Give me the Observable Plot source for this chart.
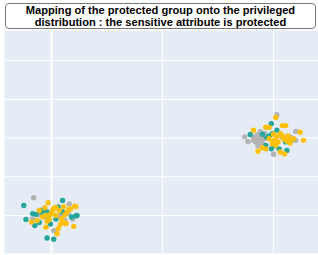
<!DOCTYPE html>
<html>
<head>
<meta charset="utf-8">
<script src="https://cdn.jsdelivr.net/npm/d3@7"></script>
<script src="https://cdn.jsdelivr.net/npm/@observablehq/plot@0.6"></script>
<style>
  html, body { margin: 0; padding: 0; background: #fff; width: 318px; height: 255px; overflow: hidden; }
  #wrap { position: relative; width: 318px; height: 255px; }
  #title {
    position: absolute; left: 5px; top: 3px; width: 309px; height: 24px;
    border: 1px solid #777; border-radius: 4px; background: #fff;
    font-family: "Liberation Sans", Arial, sans-serif; font-weight: bold;
    font-size: 11.1px; line-height: 12px; text-align: center; color: #000;
    box-sizing: content-box; z-index: 2; padding-top: 0px; white-space: nowrap;
  }
  #title div { height: 12px; }
  #chart { position: absolute; left: 0; top: 30px; }
</style>
</head>
<body>
<div id="wrap">
  <div id="title"><div>Mapping of the protected group onto the privileged</div><div>distribution : the sensitive attribute is protected</div></div>
  <div id="chart"></div>
</div>
<script>
const groups = ["privileged", "protected", "mapped"];
const colors = ["#b3b3b3", "#26a69a", "#ffc107"];

const privilegedX = [-0.16, 0.16, -0.17, 0.08, 0.19, 0.02, -0.07, -0.12, 0.12, 0.15,
  2.03, 1.74, 1.77, 1.82, 1.85, 1.88, 1.87, 1.84, 1.91, 1.90, 2.20, 2.20, 2.00, 2.15,
  1.85, 1.89, 1.88, 1.82, 1.92, 1.86];
const privilegedY = [0.46, 0.30, -0.09, 0.00, -0.09, -0.39, -0.04, 0.02, -0.12, 0.05,
  2.60, 2.03, 1.91, 2.01, 2.07, 2.16, 1.94, 1.90, 1.98, 1.85, 2.17, 1.94, 1.58, 2.03,
  2.02, 2.07, 1.94, 1.94, 2.12, 1.80];

const protectedX = [-0.25, 0.10, -0.23, -0.15, -0.04, 0.02, 0.22, 0.18, -0.07, -0.14, -0.01, -0.11, 0.10, -0.04, 0.04, -0.09,
  0.23, -0.10, -0.03, 0.06, -0.17,
  1.79, 1.98, 1.94, 2.12, 2.05, 1.98, 2.03, 1.93, 2.11, 2.08, 1.99,
  1.96, 2.01, 2.16, 1.90];
const protectedY = [0.26, 0.39, -0.10, -0.26, -0.58, -0.61, -0.01, -0.04, 0.15, 0.03, -0.22, -0.18, 0.09, 0.09, -0.09, 0.09,
  0.00, 0.13, -0.03, 0.22, 0.05,
  2.09, 2.37, 2.01, 1.68, 1.72, 1.72, 2.20, 1.81, 1.90, 2.03, 2.11,
  2.05, 1.80, 1.95, 2.10];

const mappedX = [-0.03, 0.21, 0.20, 0.05, 0.06, -0.05, -0.18, -0.11, 0.11, 0.16, 0.02, -0.01, 0.04, 0.10, 0.13, 0.08, -0.08, -0.04, 0.07, 0.14, 0.01, -0.05, -0.13,
  0.04, 0.22, 0.17, 0.13, 0.00, 0.12, -0.06, 0.09, -0.02,
  2.02, 1.82, 2.24, 2.27, 1.86, 2.10, 1.93, 1.96, 2.08, 2.11, 1.93, 2.06, 2.15, 2.03, 2.00, 2.06, 2.09, 1.99, 2.02, 2.14, 2.18,
  2.00, 2.04, 2.08, 1.96, 2.12, 1.90, 2.13];
const mappedY = [0.33, 0.24, -0.28, -0.47, -0.34, -0.30, -0.17, 0.13, 0.23, 0.16, 0.19, 0.03, 0.00, -0.15, -0.20, -0.23, -0.03, -0.15, 0.13, 0.09, 0.13, 0.00, -0.13,
  0.21, 0.23, 0.17, -0.21, 0.05, 0.02, 0.20, -0.08, -0.10,
  2.53, 2.20, 2.15, 1.94, 1.66, 1.59, 2.28, 2.27, 2.32, 2.32, 1.72, 1.64, 1.87, 2.03, 1.94, 2.11, 1.98, 1.85, 1.81, 1.98, 1.98,
  2.10, 1.90, 2.05, 1.98, 1.92, 1.75, 2.05];

const xTicks = [0, 1, 2];
const yTicks = [0, 1, 2, 3, 4];

const seriesX = [privilegedX, protectedX, mappedX];
const seriesY = [privilegedY, protectedY, mappedY];
const points = groups.flatMap((g, i) => seriesX[i].map((x, j) => ({group: g, x, y: seriesY[i][j]})));

const chart = Plot.plot({
  width: 318,
  height: 225,
  marginLeft: 4,
  marginRight: 0,
  marginTop: 0,
  marginBottom: 2,
  x: {domain: [-0.4234, 2.405], axis: null},
  y: {domain: [-0.98, 4.774], axis: null},
  color: {domain: groups, range: colors},
  style: {background: "transparent"},
  marks: [
    Plot.frame({fill: "#e5ecf6", stroke: null}),
    Plot.gridX(xTicks, {stroke: "white", strokeOpacity: 1, strokeWidth: d => d === 0 ? 2 : 1}),
    Plot.gridY(yTicks, {stroke: "white", strokeOpacity: 1, strokeWidth: 1}),
    Plot.dot(points, {x: "x", y: "y", fill: "group", r: 2.7, stroke: null})
  ]
});
document.getElementById("chart").appendChild(chart);
</script>
</body>
</html>
